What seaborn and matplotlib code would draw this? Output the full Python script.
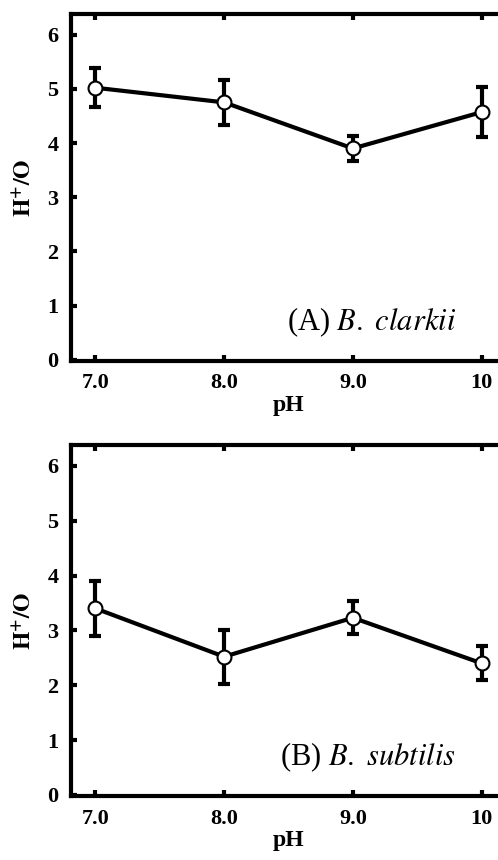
import numpy as np
import pandas as pd
import seaborn as sns
import matplotlib
matplotlib.use('Agg')
import matplotlib.pyplot as plt

# data
ph = [7.0, 8.0, 9.0, 10.0]
ph_labels = ['7.0', '8.0', '9.0', '10']
clarkii_mean = [5.02, 4.75, 3.90, 4.57]
clarkii_err = [0.36, 0.42, 0.23, 0.46]
subtilis_mean = [3.40, 2.52, 3.23, 2.40]
subtilis_err = [0.50, 0.49, 0.30, 0.31]

sns.set_theme(style='ticks', rc={'axes.edgecolor': 'black', 'xtick.color': 'black',
                                 'ytick.color': 'black', 'text.color': 'black',
                                 'axes.labelcolor': 'black'})
plt.rcParams['font.family'] = ['Liberation Serif', 'DejaVu Serif']
plt.rcParams['mathtext.fontset'] = 'stix'

fig = plt.figure(figsize=(4.98, 8.6), dpi=100)
ax_a = fig.add_axes([71 / 498, 499 / 860, 435 / 498, 347 / 860])
ax_b = fig.add_axes([71 / 498, 64 / 860, 435 / 498, 351 / 860])

panels = [
    (ax_a, clarkii_mean, clarkii_err, r'(A) $\mathit{B.\ clarkii}$'),
    (ax_b, subtilis_mean, subtilis_err, r'(B) $\mathit{B.\ subtilis}$'),
]

for ax, mean, err, label in panels:
    df = pd.DataFrame({'pH': ph, 'HO': mean})
    ax.errorbar(ph, mean, yerr=err, fmt='none', ecolor='black',
                elinewidth=3, capsize=4, capthick=3, zorder=2)
    sns.lineplot(data=df, x='pH', y='HO', ax=ax, color='black', lw=3,
                 marker='o', markersize=10, markerfacecolor='white',
                 markeredgecolor='black', markeredgewidth=1.5, zorder=3)
    ax.set_xlim(6.81, 10.19)
    ax.set_ylim(-0.02, 6.38)
    ax.set_xticks(ph)
    ax.set_xticklabels(ph_labels)
    ax.set_yticks(range(7))
    ax.tick_params(direction='in', top=True, right=True, length=4, width=3,
                   labelsize=16, pad=9)
    for t in ax.get_xticklabels() + ax.get_yticklabels():
        t.set_fontweight('bold')
    for s in ax.spines.values():
        s.set_linewidth(3)
        s.set_visible(True)
    ax.set_xlabel('pH', fontsize=17, fontweight='bold', labelpad=1)
    ax.set_ylabel(r'$\mathbf{H^{+}/O}$', fontsize=17, labelpad=8)
    ax.text(9.8, 0.55, label, ha='right', va='baseline', fontsize=22)

fig.savefig('out.png', dpi=100)
